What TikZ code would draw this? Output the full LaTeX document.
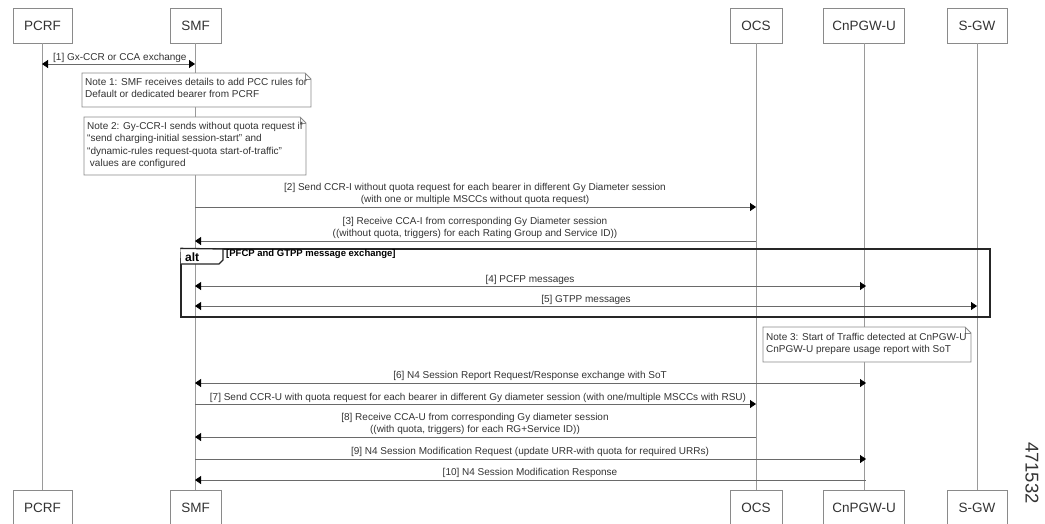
\documentclass[tikz,border=0pt]{standalone}
\usepackage{fontspec}
\setmainfont{Liberation Sans}
\usetikzlibrary{arrows.meta}
\definecolor{boxgray}{HTML}{8A8A8A}
\definecolor{lifegray}{HTML}{9A9A9A}
\definecolor{msggray}{HTML}{6A6A6A}
\definecolor{textdark}{HTML}{333333}
\begin{document}
\begin{tikzpicture}[x=1pt,y=-1pt,
  actor/.style={draw=boxgray, line width=0.9pt, fill=white, minimum height=35pt,
    inner sep=0pt, font=\fontsize{13.5}{15}\selectfont, text=textdark},
  life/.style={draw=lifegray, line width=0.9pt},
  msg/.style={draw=msggray, line width=0.8pt},
  tipend/.style={-{Triangle[length=6pt,width=8pt,color=black]}},
  tipstart/.style={{Triangle[length=6pt,width=8pt,color=black]}-},
  tipboth/.style={{Triangle[length=6pt,width=8pt,color=black]}-{Triangle[length=6pt,width=8pt,color=black]}},
  lbl/.style={font=\fontsize{10}{12}\selectfont, text=textdark, inner sep=0pt, align=center},
  notebox/.style={draw=boxgray, line width=0.8pt, fill=white},
  notetext/.style={font=\fontsize{10}{12.3}\selectfont, text=textdark, inner sep=0pt, align=left, anchor=north west},
  altframe/.style={draw=black!85, line width=1.3pt}
]
\useasboundingbox (0,0) rectangle (1045,523);

% header actors
\node[actor, minimum width=59pt] (pcrf) at (42.5,25.5) {PCRF};
\node[actor, minimum width=51pt] (smf) at (195.5,25.5) {SMF};
\node[actor, minimum width=52pt] (ocs) at (756,25.5) {OCS};
\node[actor, minimum width=81pt] (pgw) at (864,25.5) {CnPGW-U};
\node[actor, minimum width=60pt] (sgw) at (977,25.5) {S-GW};
% footer actors
\node[actor, minimum width=59pt] (pcrfb) at (42.5,507.5) {PCRF};
\node[actor, minimum width=51pt] (smfb) at (195.5,507.5) {SMF};
\node[actor, minimum width=52pt] (ocsb) at (756,507.5) {OCS};
\node[actor, minimum width=81pt] (pgwb) at (864,507.5) {CnPGW-U};
\node[actor, minimum width=60pt] (sgwb) at (977,507.5) {S-GW};

% lifelines
\draw[life] (pcrf.south) -- (pcrfb.north);
\draw[life] (smf.south) -- (smfb.north);
\draw[life] (ocs.south) -- (ocsb.north);
\draw[life] (pgw.south) -- (pgwb.north);
\draw[life] (sgw.south) -- (sgwb.north);

% notes
\draw[notebox] (82,73) -- (305,73) -- (311,79) -- (311,107) -- (82,107) -- cycle;
\draw[boxgray, line width=0.8pt] (305,73) -- (305,79) -- (311,79);
\node[notetext] (note1) at (85,78) {Note 1: SMF receives details to add PCC rules for\\Default or dedicated bearer from PCRF};

\draw[notebox] (84,117) -- (300,117) -- (306,123) -- (306,175) -- (84,175) -- cycle;
\draw[boxgray, line width=0.8pt] (300,117) -- (300,123) -- (306,123);
\node[notetext] (note2) at (87,122) {Note 2: Gy-CCR-I sends without quota request if\\``send charging-initial session-start'' and\\``dynamic-rules request-quota start-of-traffic''\\\ values are configured};

\draw[notebox] (763,327) -- (965,327) -- (971,333) -- (971,362) -- (763,362) -- cycle;
\draw[boxgray, line width=0.8pt] (965,327) -- (965,333) -- (971,333);
\node[notetext] (note3) at (766,333) {Note 3: Start of Traffic detected at CnPGW-U\\CnPGW-U prepare usage report with SoT};

% alt frame
\node[altframe, minimum width=809pt, minimum height=68pt, inner sep=0pt] (alt) at (585.5,283) {};
\draw[altframe, fill=white] (alt.north west) -- (223,249) -- (223,260) -- (219,264) -- (181,264);
\node[font=\fontsize{12}{13}\selectfont\bfseries, inner sep=0pt, anchor=west] (altlbl) at (185,257) {alt};
\node[font=\fontsize{9.5}{10}\selectfont\bfseries, inner sep=0pt, anchor=west] (altcond) at (226,254.5) {[PFCP and GTPP message exchange]};

% message anchor coordinates
\coordinate (a1) at (42,64);   \coordinate (b1) at (195,64);
\coordinate (a2) at (195,207); \coordinate (b2) at (756,207);
\coordinate (a3) at (195,241); \coordinate (b3) at (756,241);
\coordinate (a4) at (195,286); \coordinate (b4) at (866,286);
\coordinate (a5) at (195,306); \coordinate (b5) at (977,306);
\coordinate (a6) at (195,383); \coordinate (b6) at (866,383);
\coordinate (a7) at (195,404); \coordinate (b7) at (756,404);
\coordinate (a8) at (195,437); \coordinate (b8) at (756,437);
\coordinate (a9) at (195,459); \coordinate (b9) at (866,459);
\coordinate (a10) at (195,480); \coordinate (b10) at (866,480);

% messages
\draw[msg, tipboth] (a1) -- (b1);
\node[lbl, anchor=south west] (l1) at (53,63) {[1] Gx-CCR or CCA exchange};

\draw[msg, tipend] (a2) -- (b2);
\node[lbl, anchor=south] (l2) at (475,205) {[2] Send CCR-I without quota request for each bearer in different Gy Diameter session\\(with one or multiple MSCCs without quota request)};

\draw[msg, tipstart] (a3) -- (b3);
\node[lbl, anchor=south] (l3) at (475,239) {[3] Receive CCA-I from corresponding Gy Diameter session\\((without quota, triggers) for each Rating Group and Service ID))};

\draw[msg, tipboth] (a4) -- (b4);
\node[lbl, anchor=south] (l4) at (530,285) {[4] PCFP messages};

\draw[msg, tipboth] (a5) -- (b5);
\node[lbl, anchor=south] (l5) at (586,305) {[5] GTPP messages};

\draw[msg, tipboth] (a6) -- (b6);
\node[lbl, anchor=south] (l6) at (530,381) {[6] N4 Session Report Request/Response exchange with SoT};

\draw[msg, tipend] (a7) -- (b7);
\node[lbl, anchor=south] (l7) at (478,403) {[7] Send CCR-U with quota request for each bearer in different Gy diameter session (with one/multiple MSCCs with RSU)};

\draw[msg, tipstart] (a8) -- (b8);
\node[lbl, anchor=south] (l8) at (475,435) {[8] Receive CCA-U from corresponding Gy diameter session\\((with quota, triggers) for each RG+Service ID))};

\draw[msg, tipend] (a9) -- (b9);
\node[lbl, anchor=south] (l9) at (530,457) {[9] N4 Session Modification Request (update URR-with quota for required URRs)};

\draw[msg, tipstart] (a10) -- (b10);
\node[lbl, anchor=south] (l10) at (530,478) {[10] N4 Session Modification Response};

% figure number
\node[rotate=-90, font=\fontsize{18.5}{20}\selectfont, text=textdark, inner sep=0pt] (fig) at (1032,473) {471532};
\end{tikzpicture}
\end{document}
